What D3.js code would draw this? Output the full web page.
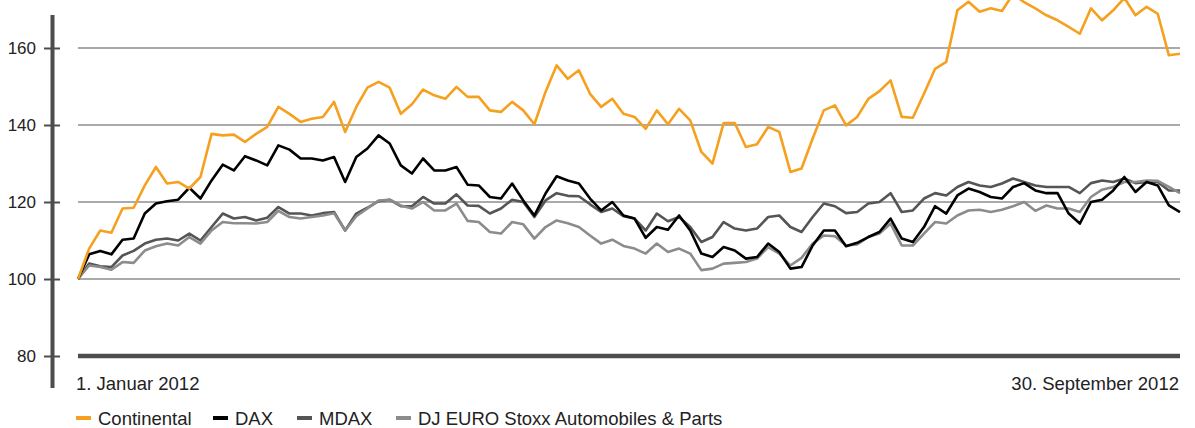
<!DOCTYPE html>
<html>
<head>
<meta charset="utf-8">
<script src="https://cdn.jsdelivr.net/npm/d3@7"></script>
<style>
  html, body { margin: 0; padding: 0; background: #fff; }
  svg { display: block; font-family: "Liberation Sans", Arial, Helvetica, sans-serif; }
</style>
</head>
<body>
<div id="chart"></div>
<script>
// index performance, 1 Jan 2012 = 100, sampled roughly every second trading day
var continental = [100, 107.9, 112.6, 112.0, 118.3, 118.5, 124.3, 129.1, 124.8, 125.2, 123.5, 126.5, 137.7, 137.3, 137.5, 135.6, 137.7, 139.5, 144.7, 142.9, 140.8,
    141.6, 142.1, 146.0, 138.2, 144.7, 149.7, 151.2, 149.7, 142.9, 145.4, 149.2, 147.7, 146.8, 149.9, 147.3, 147.3, 143.8, 143.4, 146.0,
    143.8, 140.2, 148.6, 155.5, 152.0, 154.2, 148.1, 144.7, 146.8, 142.9, 142.1, 139.0, 143.8, 140.2, 144.2, 141.2, 133.0, 130.0, 140.5, 140.5,
    134.3, 135.0, 139.5, 138.2, 127.8, 128.7, 136.5, 143.8, 145.1, 139.9, 142.1, 146.8, 148.8, 151.6, 142.1, 141.9, 148.1, 154.6, 156.4, 169.8,
    172.0, 169.4, 170.3, 169.6, 174.0, 171.9, 170.3, 168.5, 167.2, 165.5, 163.7, 170.3, 167.2, 169.8, 173.0, 168.5, 170.7, 168.9, 158.1, 158.5];

var dax = [100, 106.4, 107.3, 106.4, 110.2, 110.5, 117.0, 119.6, 120.2, 120.6, 123.7, 120.9, 125.6, 129.7, 128.2, 131.9, 130.8, 129.5, 134.7, 133.6, 131.3,
    131.3, 130.8, 131.7, 125.2, 131.7, 133.9, 137.3, 135.2, 129.5, 127.4, 131.3, 128.2, 128.2, 129.1, 124.5, 124.3, 121.3, 120.9, 124.8,
    120.4, 116.5, 122.2, 126.7, 125.6, 124.8, 120.9, 117.8, 120.0, 116.5, 115.7, 110.7, 113.5, 112.8, 116.5, 112.6, 106.6, 105.7, 108.3, 107.4,
    105.3, 105.7, 109.2, 107.0, 102.7, 103.1, 108.7, 112.6, 112.6, 108.5, 109.4, 110.9, 112.2, 115.7, 110.5, 109.6, 113.5, 118.9, 117.0, 121.7,
    123.5, 122.6, 121.3, 120.9, 123.9, 124.9, 123.0, 122.3, 122.3, 117.0, 114.4, 120.0, 120.6, 123.0, 126.5, 122.6, 125.2, 124.3, 119.1, 117.4];

var mdax = [100, 104.0, 103.3, 103.1, 106.1, 107.3, 109.2, 110.2, 110.5, 110.0, 111.8, 110.0, 113.5, 117.0, 115.7, 116.1, 115.2, 115.9, 118.7, 117.0, 117.0,
    116.5, 117.1, 117.4, 112.6, 117.0, 118.5, 120.2, 120.6, 118.9, 118.9, 121.3, 119.6, 119.6, 122.0, 119.1, 119.0, 117.0, 118.3, 120.6,
    120.0, 116.1, 120.4, 122.3, 121.6, 121.5, 119.4, 117.4, 118.3, 116.3, 115.7, 112.6, 117.0, 115.0, 116.1, 113.5, 109.6, 110.9, 114.8, 113.1,
    112.6, 113.1, 116.1, 116.5, 113.5, 112.2, 116.1, 119.6, 118.9, 117.1, 117.4, 119.6, 120.0, 122.3, 117.4, 117.8, 120.9, 122.3, 121.7, 123.9,
    125.2, 124.3, 123.9, 124.8, 126.1, 125.2, 124.3, 123.9, 123.9, 123.9, 122.3, 124.9, 125.6, 125.2, 126.1, 124.9, 125.2, 125.2, 123.0, 123.0];

var djStoxx = [100, 103.5, 103.1, 102.4, 104.4, 104.2, 107.4, 108.5, 109.2, 108.7, 110.9, 109.2, 112.6, 114.8, 114.5, 114.5, 114.4, 114.8, 117.7, 116.1, 115.7,
    116.1, 116.5, 117.1, 112.6, 116.3, 118.3, 120.4, 120.6, 119.1, 118.3, 120.0, 117.8, 117.8, 119.6, 115.1, 114.8, 112.2, 111.8, 114.8,
    114.2, 110.5, 113.5, 115.2, 114.5, 113.5, 111.3, 109.2, 110.2, 108.6, 107.9, 106.6, 109.2, 107.0, 107.9, 106.6, 102.3, 102.7, 104.0, 104.2,
    104.4, 105.3, 108.3, 106.6, 103.5, 105.5, 109.2, 111.3, 111.1, 108.7, 109.0, 110.9, 111.8, 114.4, 108.7, 108.7, 111.8, 114.8, 114.4, 116.5,
    117.8, 118.0, 117.4, 118.0, 118.9, 120.0, 117.7, 119.1, 118.3, 118.3, 117.4, 121.3, 123.2, 123.9, 125.2, 125.2, 125.6, 125.5, 123.9, 122.3];

var yTicks = [80, 100, 120, 140, 160];
var gridTicks = [100, 120, 140, 160];
var dateLabels = ["1. Januar 2012", "30. September 2012"];
var seriesNames = ["Continental", "DAX", "MDAX", "DJ EURO Stoxx Automobiles & Parts"];
var seriesColors = ["#f5a01e", "#000000", "#555555", "#8c8c8c"];

var W = 1195, H = 428;
var plotLeft = 78, plotRight = 1180, plotTop = 48, plotBottom = 356;

var svg = d3.select("#chart").append("svg")
    .attr("width", W)
    .attr("height", H);

var x = d3.scaleLinear().domain([0, continental.length - 1]).range([plotLeft, plotRight]);
var y = d3.scaleLinear().domain([80, 160]).range([plotBottom, plotTop]);

// grid lines
svg.append("g").selectAll("line")
    .data(gridTicks)
    .enter().append("line")
    .attr("x1", plotLeft).attr("x2", plotRight)
    .attr("y1", function(d){ return y(d); })
    .attr("y2", function(d){ return y(d); })
    .attr("stroke", "#aaaaaa")
    .attr("stroke-width", 2);

// y axis
var yAxis = svg.append("g")
    .attr("transform", "translate(60,0)")
    .call(d3.axisLeft(y).tickValues(yTicks).tickSizeInner(16).tickSizeOuter(0).tickPadding(8));
yAxis.select(".domain").remove();
yAxis.selectAll(".tick line").attr("stroke", "#4d4d4d").attr("stroke-width", 2);
yAxis.selectAll(".tick text")
    .attr("fill", "#222")
    .style("font-size", "17px")
    .style("font-family", "'Liberation Sans', Arial, sans-serif");

svg.append("line")
    .attr("x1", 52.5).attr("x2", 52.5)
    .attr("y1", 15).attr("y2", 388)
    .attr("stroke", "#4d4d4d")
    .attr("stroke-width", 4);

// lines
var line = d3.line()
    .x(function(d, i){ return x(i); })
    .y(function(d){ return y(d); });

var drawOrder = [[mdax, 2], [djStoxx, 3], [dax, 1], [continental, 0]];
drawOrder.forEach(function(s){
    svg.append("path")
        .datum(s[0])
        .attr("d", line)
        .attr("fill", "none")
        .attr("stroke", seriesColors[s[1]])
        .attr("stroke-width", 2.6)
        .attr("stroke-linejoin", "round");
});

// x axis line
svg.append("line")
    .attr("x1", plotLeft).attr("x2", plotRight)
    .attr("y1", plotBottom).attr("y2", plotBottom)
    .attr("stroke", "#4d4d4d")
    .attr("stroke-width", 4.5);

svg.append("text")
    .attr("x", 76).attr("y", 390)
    .style("font-size", "18.5px")
    .attr("fill", "#222")
    .text(dateLabels[0]);

svg.append("text")
    .attr("x", 1179).attr("y", 390)
    .attr("text-anchor", "end")
    .style("font-size", "18.5px")
    .attr("fill", "#222")
    .text(dateLabels[1]);

// legend
var legendX = [76, 213, 297, 396];
var legend = svg.selectAll(".legend")
    .data(seriesNames)
    .enter().append("g")
    .attr("class", "legend")
    .attr("transform", function(d, i){ return "translate(" + legendX[i] + ",0)"; });

legend.append("rect")
    .attr("x", 0).attr("y", 416)
    .attr("width", 15).attr("height", 4)
    .attr("fill", function(d, i){ return seriesColors[i]; });

legend.append("text")
    .attr("x", 22).attr("y", 425)
    .style("font-size", "18.5px")
    .attr("fill", "#222")
    .text(function(d){ return d; });
</script>
</body>
</html>
